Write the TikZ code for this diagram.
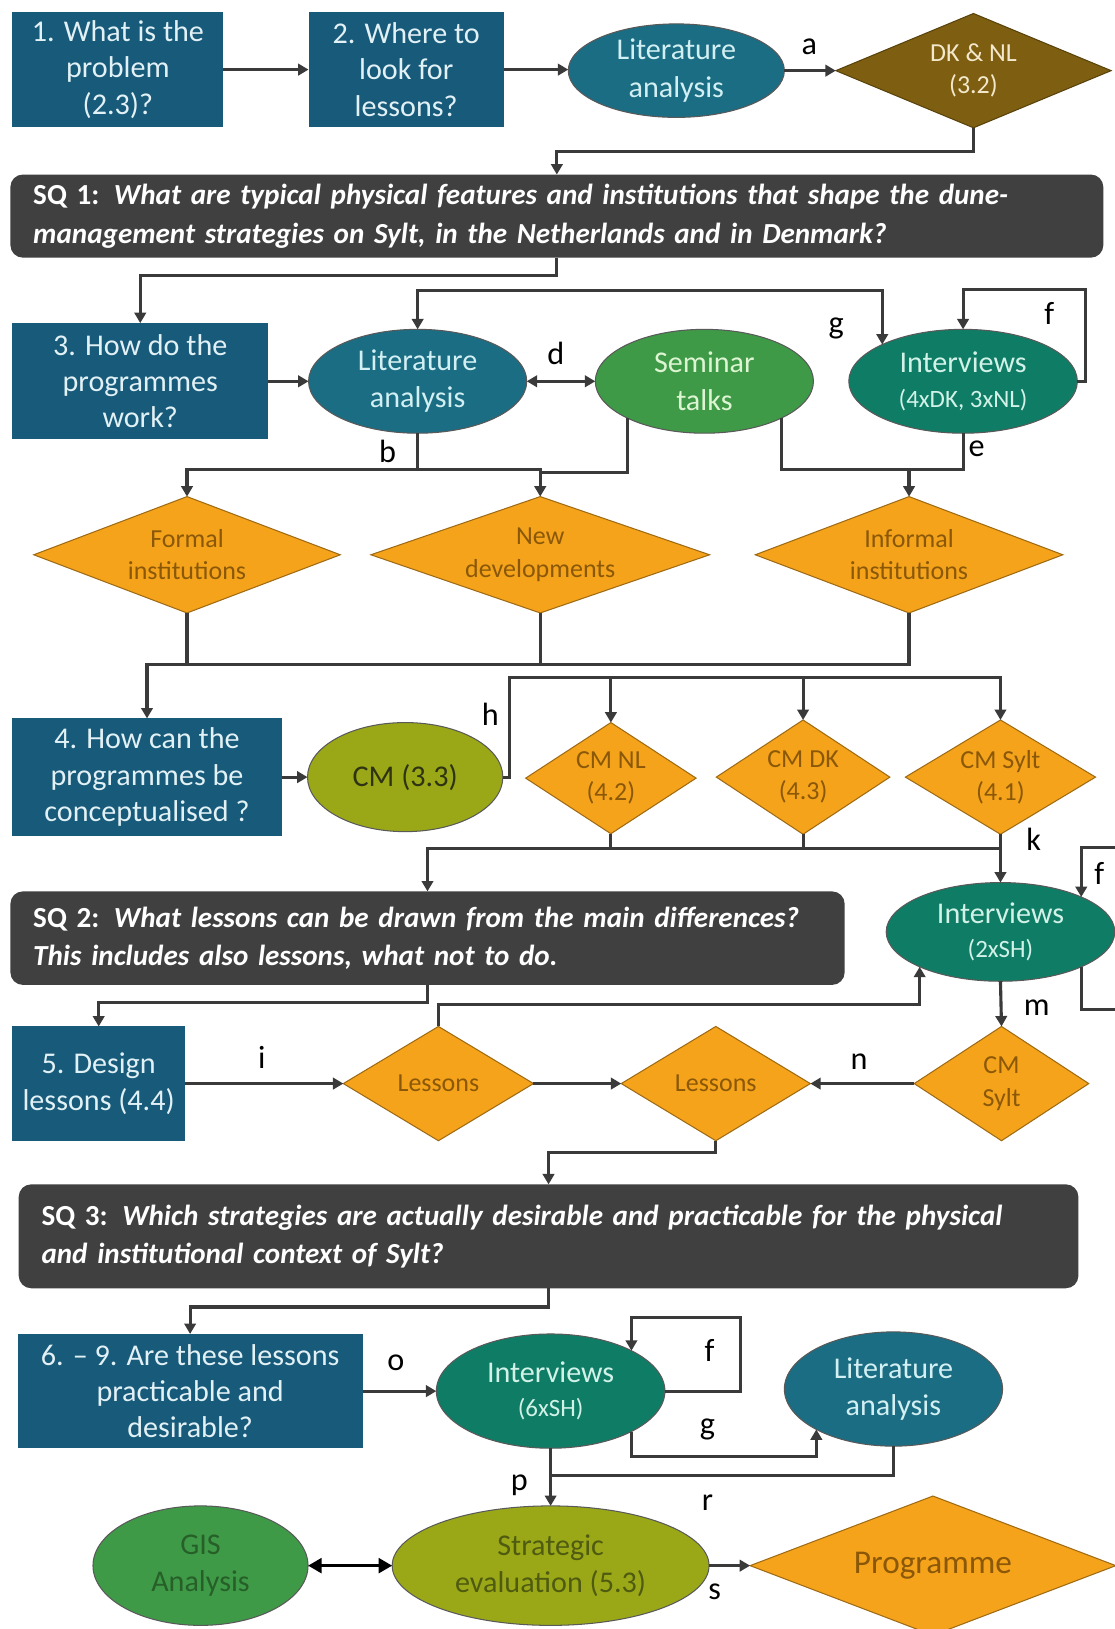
\documentclass[tikz,border=0pt]{standalone}
\usepackage{fontspec}
\setmainfont{Carlito}
\usetikzlibrary{shapes.geometric,arrows.meta,calc}

% palette
\definecolor{qblue}{HTML}{175A7A}
\definecolor{qtext}{HTML}{E2F1F5}
\definecolor{littl}{HTML}{1B6D83}
\definecolor{littext}{HTML}{D2F0F3}
\definecolor{intgr}{HTML}{0F7D66}
\definecolor{inttext}{HTML}{D2F2E8}
\definecolor{semgr}{HTML}{3F9A48}
\definecolor{semtext}{HTML}{DDF5D2}
\definecolor{cmolv}{HTML}{9AA817}
\definecolor{cmtext}{HTML}{2E3412}
\definecolor{strtext}{HTML}{4F5B10}
\definecolor{gistext}{HTML}{275F28}
\definecolor{dorng}{HTML}{F4A31B}
\definecolor{dtext}{HTML}{8A5808}
\definecolor{dbrwn}{HTML}{7E5E10}
\definecolor{dktext}{HTML}{F3E8CC}
\definecolor{sqgray}{HTML}{404040}
\definecolor{wirec}{HTML}{3A3A3A}

% type sizes
\newcommand{\fsBox}{\fontsize{29}{35}\selectfont}
\newcommand{\fsOval}{\fontsize{29}{36}\selectfont}
\newcommand{\fsDia}{\fontsize{25}{31}\selectfont}
\newcommand{\fsSQ}{\fontsize{28}{37}\selectfont\bfseries}
\newcommand{\fsLbl}{\fontsize{31}{31}\selectfont}
\newcommand{\fsSub}{\fontsize{24}{24}\selectfont}

\tikzset{
  every node/.style={inner sep=0pt, outer sep=0pt},
  qbox/.style={rectangle, fill=qblue, text=qtext, align=center, font=\fsBox},
  oval/.style={ellipse, draw=black!65, line width=1pt, align=center, font=\fsOval},
  dmd/.style={diamond, fill=dorng, draw=dorng!65!black, line width=1pt, text=dtext, align=center, font=\fsDia},
  sqbox/.style={rectangle, rounded corners=12pt, fill=sqgray, text=white, align=left, inner xsep=22pt, font=\fsSQ},
  wire/.style={draw=wirec, line width=3pt},
  arr/.style={wire, -{Triangle[length=10pt,width=11pt]}},
  dbl/.style={wire, {Triangle[length=10pt,width=11pt]}-{Triangle[length=10pt,width=11pt]}},
  lbl/.style={font=\fsLbl, text=black},
}

\begin{document}
\begin{tikzpicture}[x=1pt,y=-1pt]
\useasboundingbox (0,0) rectangle (1073,1568);
\fill[white] (0,0) rectangle (1073,1568);
\clip (0,0) rectangle (1073,1568);

% ---------- row 1 ----------
\node[qbox, minimum width=203pt, minimum height=110pt] (q1) at (113.5,67) {1. What is the\\problem\\(2.3)?};
\node[qbox, minimum width=188pt, minimum height=110pt] (q2) at (391,67) {2. Where to\\look for\\lessons?};
\node[oval, fill=littl, text=littext, minimum width=208pt, minimum height=90pt] (lit1) at (651,68) {Literature\\analysis};
\node[dmd, fill=dbrwn, draw=dbrwn!70!black, text=dktext, aspect=2.4, minimum width=265pt, minimum height=110pt] (dknl) at (937,68) {DK \& NL\\(3.2)};

\node[sqbox, text width=1008pt, minimum height=80pt] (sq1) at (536,208)
  {SQ 1: {\itshape What are typical physical features and institutions that shape the dune-}\\{\itshape management strategies on Sylt, in the Netherlands and in Denmark?}};

% ---------- row 3 ----------
\node[qbox, minimum width=246pt, minimum height=112pt] (q3) at (135,367) {3. How do the\\programmes\\work?};
\node[oval, fill=littl, text=littext, minimum width=210pt, minimum height=100pt] (lit2) at (402,367) {Literature\\analysis};
\node[oval, fill=semgr, text=semtext, minimum width=210pt, minimum height=100pt] (sem) at (678,367) {Seminar\\talks};
\node[oval, fill=intgr, text=inttext, minimum width=220pt, minimum height=100pt] (int1) at (927,367) {Interviews\\[-3pt]{\fsSub(4xDK, 3xNL)}};

% ---------- row 4 ----------
\node[dmd, aspect=2.6, minimum width=295pt, minimum height=112pt] (formal) at (180,534) {Formal\\institutions};
\node[dmd, aspect=2.9, minimum width=326pt, minimum height=112pt] (newdev) at (520,534) {New\\developments};
\node[dmd, aspect=2.6, minimum width=296pt, minimum height=112pt] (informal) at (875,534) {Informal\\institutions};

% ---------- row 5 ----------
\node[qbox, minimum width=259pt, minimum height=113pt] (q4) at (141.5,748) {4. How can the\\programmes be\\conceptualised ?};
\node[oval, fill=cmolv, text=cmtext, minimum width=188pt, minimum height=105pt] (cm33) at (390,748) {CM (3.3)};
\node[dmd, aspect=1.53, minimum width=164pt, minimum height=107pt] (cmnl) at (588,749) {CM NL\\(4.2)};
\node[dmd, aspect=1.52, minimum width=167pt, minimum height=110pt] (cmdk) at (773,748) {CM DK\\(4.3)};
\node[dmd, aspect=1.66, minimum width=183pt, minimum height=110pt] (cmsylt) at (963,748) {CM Sylt\\(4.1)};

\node[sqbox, text width=759pt, minimum height=90pt] (sq2) at (411.5,903)
  {SQ 2: {\itshape What lessons can be drawn from the main differences?}\\{\itshape This includes also lessons, what not to do.}};
\node[oval, fill=intgr, text=inttext, minimum width=220pt, minimum height=95pt] (int2) at (963,897) {Interviews\\[-3pt]{\fsSub(2xSH)}};

% ---------- row 6 ----------
\node[qbox, minimum width=166pt, minimum height=110pt] (q5) at (95,1043) {5. Design\\lessons (4.4)};
\node[dmd, aspect=1.66, minimum width=183pt, minimum height=110pt] (less1) at (422,1043) {Lessons};
\node[dmd, aspect=1.66, minimum width=182pt, minimum height=110pt] (less2) at (689,1043) {Lessons};
\node[dmd, aspect=1.53, minimum width=168pt, minimum height=110pt] (cmsylt2) at (964,1043) {CM\\Sylt};

\node[sqbox, text width=976pt, minimum height=100pt] (sq3) at (528,1190)
  {SQ 3: {\itshape Which strategies are actually desirable and practicable for the physical}\\{\itshape and institutional context of Sylt?}};

% ---------- row 7 ----------
\node[qbox, minimum width=332pt, minimum height=110pt] (q6) at (183,1339) {6. -- 9. Are these lessons\\practicable and\\desirable?};
\node[oval, fill=intgr, text=inttext, minimum width=220pt, minimum height=110pt] (int3) at (530,1339) {Interviews\\[-3pt]{\fsSub(6xSH)}};
\node[oval, fill=littl, text=littext, minimum width=210pt, minimum height=110pt] (lit3) at (860,1337) {Literature\\analysis};

\node[oval, fill=semgr, text=gistext, minimum width=207pt, minimum height=115pt] (gis) at (193,1507) {GIS\\Analysis};
\node[oval, fill=cmolv, text=strtext, minimum width=305pt, minimum height=115pt] (strat) at (530,1507) {Strategic\\evaluation (5.3)};
\node[dmd, aspect=2.63, minimum width=352pt, minimum height=134pt, font=\fontsize{32}{36}\selectfont] (prog) at (898,1507) {Programme};

% ---------- connectors ----------
\draw[arr] (q1) -- (q2);
\draw[arr] (q2.east) -- (q2.east -| lit1.west);
\draw[arr] (lit1) -- (dknl);
\draw[arr] (dknl.south) -- ++(0,23) -| (sq1.north);
\draw[arr] (sq1.south) -- ++(0,17) -| (q3.north);
\draw[dbl] (lit2.north) -- ++(0,-37) -| (int1.north west);
\draw[arr] (q3) -- (lit2);
\draw[dbl] (lit2) -- (sem);
\draw[arr] (int1.east) -- ++(8,0) -- ++(0,-88) -| (int1.north);

\coordinate (bj) at (520,455);
\coordinate (ej) at (875,452);
\draw[arr] (lit2.south) -- ++(0,35) -| (formal.north);
\draw[arr] (lit2.south) -- ++(0,35) -| (newdev.north);
\draw[wire] (sem.south west) |- (bj);
\draw[arr] (int1.south) -- ++(0,35) -| (informal.north);
\draw[wire] (sem.south east) |- (ej);

\coordinate (fj) at (180,640);
\draw[arr] (formal.south) -- (fj) -| (q4.north);
\draw[wire] (newdev.south) -- (newdev.south |- fj);
\draw[wire] (informal.south) |- (fj);

\draw[arr] (q4) -- (cm33);
\coordinate (hj) at (490,652);
\draw[arr] (cm33.east) -- (cm33.east -| hj) -- (hj) -| (cmnl.north);
\draw[arr] (hj) -| (cmdk.north);
\draw[arr] (hj) -| (cmsylt.north);

\coordinate (kj) at (963,817);
\draw[arr] (cmsylt.south) -- (int2.north);
\draw[arr] (kj) -| (sq2.north);
\draw[wire] (cmnl.south) -- (cmnl.south |- kj);
\draw[wire] (cmdk.south) -- (cmdk.south |- kj);

\coordinate (floopb) at (1085,972);
\coordinate (floopt) at (1085,816);
\draw[arr] (int2.south east) |- (floopb) -- (floopt) -| (int2.north east);
\draw[arr] (int2.south) -- (cmsylt2.north);
\draw[arr] (less1.north) -- ++(0,-21) -| (int2.south west);

\draw[arr] (sq2.south) -- ++(0,17) -| (q5.north);
\draw[arr] (q5) -- (less1);
\draw[arr] (less1) -- (less2);
\draw[arr] (cmsylt2) -- (less2);
\draw[arr] (less2.south) -- ++(0,11) -| (sq3.north);

\draw[arr] (sq3.south) -- ++(0,18) -| (q6.north);
\draw[arr] (q6) -- (int3);
\draw[arr] (int3.east) -- ++(73,0) -- ++(0,-71) -| (int3.north east);
\draw[arr] (int3.south east) -- ++(0,24) -| (lit3.south west);
\coordinate (pj) at (530,1420);
\draw[arr] (int3.south) -- (strat.north);
\draw[wire] (lit3.south) |- (pj);
\draw[draw=black, line width=3.5pt, {Triangle[length=13pt,width=14pt]}-{Triangle[length=13pt,width=14pt]}] (gis) -- (strat);
\draw[arr] (strat) -- (prog);

% ---------- connector labels ----------
\node[lbl] (la) at (779,45) {a};
\node[lbl] (lb) at (373,435) {b};
\node[lbl] (ld) at (535,340) {d};
\node[lbl] (lg) at (805,316) {g};
\node[lbl] (lf) at (1010,302) {f};
\node[lbl] (le) at (940,432) {e};
\node[lbl] (lh) at (472,688) {h};
\node[lbl] (lk) at (995,808) {k};
\node[lbl] (lf2) at (1058,841) {f};
\node[lbl] (lm) at (998,970) {m};
\node[lbl] (li) at (252,1018) {i};
\node[lbl] (ln) at (827,1022) {n};
\node[lbl] (lo) at (381,1312) {o};
\node[lbl] (lf3) at (683,1300) {f};
\node[lbl] (lg3) at (681,1376) {g};
\node[lbl] (lp) at (500,1430) {p};
\node[lbl] (lr) at (681,1446) {r};
\node[lbl] (ls) at (688,1532) {s};
\end{tikzpicture}
\end{document}
